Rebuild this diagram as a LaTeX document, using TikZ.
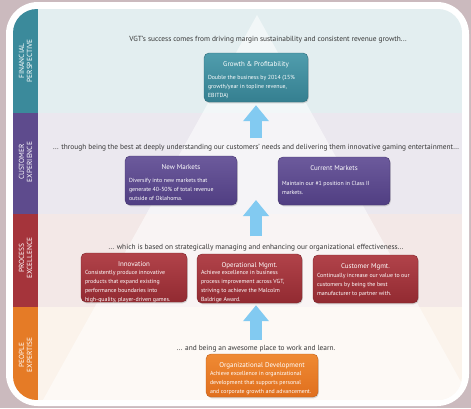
\documentclass[tikz,border=0pt]{standalone}
\usepackage{fontspec}
\setmainfont{PT Sans}
\usetikzlibrary{shadows,arrows.meta,calc}

% palette
\definecolor{pagebg}{HTML}{CBBABE}
\definecolor{finstrip}{HTML}{3B8A9B}
\definecolor{custstrip}{HTML}{5E4B8D}
\definecolor{procstrip}{HTML}{A5343B}
\definecolor{peopstrip}{HTML}{E57B26}
\definecolor{finband}{HTML}{E3EEF0}
\definecolor{custband}{HTML}{EBE8EF}
\definecolor{procband}{HTML}{F3E8E7}
\definecolor{peopband}{HTML}{FBF3EB}
\definecolor{tealtop}{HTML}{509DAD}
\definecolor{tealbot}{HTML}{357F90}
\definecolor{purptop}{HTML}{6C5A9C}
\definecolor{purpbot}{HTML}{503E82}
\definecolor{redtop}{HTML}{B1434A}
\definecolor{redbot}{HTML}{922A31}
\definecolor{orgtop}{HTML}{EF8A33}
\definecolor{orgbot}{HTML}{E06F1E}
\definecolor{arrowblue}{HTML}{82CAF1}
\definecolor{linetext}{HTML}{363636}

% box contents: box width, box height, gap after title, title, body
\newcommand\tiertext[5]{%
  \parbox[c][\dimexpr#2bp-17bp\relax][t]{\dimexpr#1bp-8bp\relax}{\centering
  {\fontsize{7}{8}\selectfont #4}\par\vspace{#3bp}%
  \raggedright\fontsize{5.9}{9}\selectfont #5}}

\tikzset{
  striplabel/.style={rotate=90, text=white, align=center,
    font=\fontsize{7.4}{8}\selectfont, inner sep=0},
  tierline/.style={text=linetext, font=\fontsize{7.4}{9}\selectfont, inner sep=1bp},
  tierbox/.style={rounded corners=5bp, inner xsep=4bp, inner ysep=8.5bp, text=white,
    draw=#1bot!85!black, line width=0.4bp,
    top color=#1top, bottom color=#1bot,
    drop shadow={shadow xshift=0.8bp, shadow yshift=-1.3bp, opacity=0.3}},
  tierarrow/.style={draw=arrowblue, line width=12bp,
    -{Triangle[width=25bp,length=16bp]}},
}

\begin{document}
\begin{tikzpicture}[x=1bp,y=-1bp]
\useasboundingbox (0,0) rectangle (471,408);
\fill[pagebg] (0,0) rectangle (471,408);
\fill[white, rounded corners=32bp] (6,2) rectangle (469,406);

\begin{scope}
  \clip[rounded corners=24bp] (13,9) rectangle (462,400);
  % tier bands
  \fill[finband]  (13,9)   rectangle (462,113);
  \fill[custband] (13,113) rectangle (462,214);
  \fill[procband] (13,214) rectangle (462,307);
  \fill[peopband] (13,307) rectangle (462,400);
  % pyramid
  \fill[white, opacity=0.55] (257,15) -- (43,400) -- (471,400) -- cycle;
  % side strip
  \fill[finstrip]  (13,9)   rectangle (38,113);
  \fill[custstrip] (13,113) rectangle (38,214);
  \fill[procstrip] (13,214) rectangle (38,307);
  \fill[peopstrip] (13,307) rectangle (38,400);
\end{scope}

% strip labels
\node[striplabel] (finlbl)  at (25.5,61)  {FINANCIAL\\PERSPECTIVE};
\node[striplabel] (custlbl) at (25.5,162) {CUSTOMER\\EXPERIENCE};
\node[striplabel] (proclbl) at (25.5,258) {PROCESS\\EXCELLENCE};
\node[striplabel] (peoplbl) at (25.5,355) {PEOPLE\\EXPERTISE};

% tier statements
\node[tierline] (finline) at (268,40)
  {VGT's success comes from driving margin sustainability and consistent revenue growth...};
\node[tierline] (custline) at (256,148)
  {... through being the best at deeply understanding our customers' needs and delivering them innovative gaming entertainment...};
\node[tierline] (procline) at (256,248)
  {... which is based on strategically managing and enhancing our organizational effectiveness...};
\node[tierline] (peopline) at (256,349)
  {... and being an awesome place to work and learn.};

% financial tier
\node[tierbox=teal] (growth) at (256,77.5)
  {\tiertext{104}{49}{4}{Growth \& Profitability}
   {Double the business by 2014 (15\%\\growth/year in topline revenue,\\EBITDA)}};

% customer tier
\node[tierbox=purp] (newmk) at (181,180.5)
  {\tiertext{112}{49}{4}{New Markets}
   {Diversify into new markets that\\generate 40-50\% of total revenue\\outside of Oklahoma.}};
\node[tierbox=purp] (curmk) at (334,181)
  {\tiertext{112}{48}{6}{Current Markets}
   {Maintain our \#1 position in Class II\\markets.}};

% process tier
\node[tierbox=red] (innov) at (134,277.5)
  {\tiertext{106}{49}{-1}{Innovation}
   {Consistently produce innovative\\products that expand existing\\performance boundaries into\\high-quality, player-driven games.}};
\node[tierbox=red] (opmgmt) at (249.5,278.5)
  {\tiertext{105}{49}{-1.5}{Operational Mgmt.}
   {Achieve excellence in business\\process improvement across VGT,\\striving to achieve the Malcolm\\Baldrige Award.}};
\node[tierbox=red] (custmg) at (365.5,279)
  {\tiertext{105}{48}{0}{Customer Mgmt.}
   {Continually increase our value to our\\customers by being the best\\manufacturer to partner with.}};

% people tier
\node[tierbox=org] (orgdev) at (262,375.5)
  {\tiertext{112}{43}{-1}{Organizational Development}
   {Achieve excellence in organizational\\development that supports personal\\and corporate growth and advancement.}};

% upward arrows between tiers
\coordinate (custtier) at (256,200);
\draw[tierarrow, shorten <=5bp, shorten >=3bp]
  (custline.north -| growth.south) -- (growth.south);
\draw[tierarrow, shorten <=7bp]
  (procline.north -| custtier) -- (custtier);
\draw[tierarrow, shorten <=4bp, shorten >=2bp]
  (peopline.north -| growth.south) -- (opmgmt.south -| growth.south);
\end{tikzpicture}
\end{document}
